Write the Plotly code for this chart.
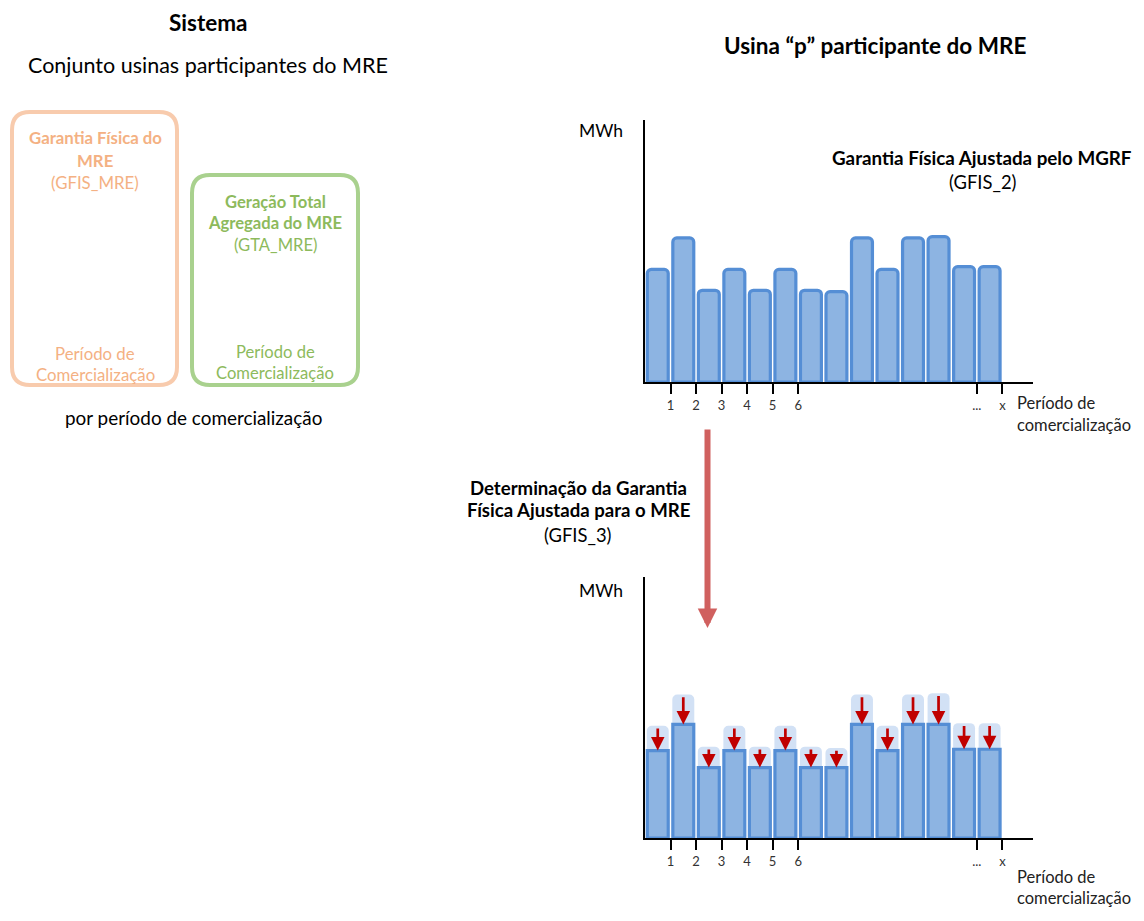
import plotly.graph_objects as go

# ---------------- data ----------------
periods = list(range(1, 15))
gfis2 = [4.3, 5.5, 3.5, 4.3, 3.5, 4.3, 3.5, 3.45, 5.5, 4.3, 5.5, 5.55, 4.4, 4.4]
gfis3 = [3.35, 4.35, 2.7, 3.35, 2.7, 3.35, 2.7, 2.7, 4.35, 3.35, 4.35, 4.35, 3.4, 3.4]
tick_vals = [1.5, 2.5, 3.5, 4.5, 5.5, 6.5, 13.5, 14.5]
tick_text = ["1", "2", "3", "4", "5", "6", "...", "x"]

# page body has an 8px margin: the figure occupies the window minus it
OFF = 8
W, H = 1144 - 2 * OFF, 921 - 2 * OFF
FONT = "Lato"

def px(x):
    return (x - OFF) / W

def py(y):
    return 1 - (y - OFF) / H

BAR_FILL = "#8db4e2"
BAR_LINE = "#558ed5"
GHOST = "rgba(195,215,241,0.75)"
RED = "#c00000"
BIG_ARROW = "#d0605f"
ORANGE_LINE = "#f8cbad"
ORANGE_TEXT = "#f4b183"
GREEN_LINE = "#a9d18e"
GREEN_TEXT = "#8dba5c"

fig = go.Figure()

# top chart
fig.add_trace(go.Bar(x=periods, y=gfis2, width=0.82, xaxis="x", yaxis="y",
                     marker=dict(color=BAR_FILL, line=dict(color=BAR_LINE, width=3.2), cornerradius=4),
                     showlegend=False, hoverinfo="skip"))
# bottom chart: ghost (original) then adjusted
fig.add_trace(go.Bar(x=periods, y=gfis2, width=0.86, xaxis="x2", yaxis="y2",
                     marker=dict(color=GHOST, line=dict(width=0), cornerradius=5),
                     showlegend=False, hoverinfo="skip"))
fig.add_trace(go.Bar(x=periods, y=gfis3, width=0.82, xaxis="x2", yaxis="y2",
                     marker=dict(color=BAR_FILL, line=dict(color=BAR_LINE, width=3.2), cornerradius=4),
                     showlegend=False, hoverinfo="skip"))

xaxis_common = dict(range=[0.5, 15.7], showline=True, linecolor="black", linewidth=2,
                    tickmode="array", tickvals=tick_vals, ticktext=tick_text,
                    ticks="outside", ticklen=10, tickwidth=2, tickcolor="black",
                    showgrid=False, zeroline=False, fixedrange=True,
                    tickfont=dict(family=FONT, size=13, color="#333"))
yaxis_common = dict(range=[0, 10], showline=True, linecolor="black", linewidth=2,
                    showticklabels=False, ticks="", showgrid=False, zeroline=False, fixedrange=True)

fig.update_layout(
    width=W, height=H, margin=dict(l=0, r=0, t=0, b=0),
    paper_bgcolor="white", plot_bgcolor="white",
    barmode="overlay", showlegend=False,
    font=dict(family=FONT, color="black"),
    xaxis=dict(domain=[px(645), px(1033)], anchor="y", **xaxis_common),
    yaxis=dict(domain=[py(382), py(120)], anchor="x", **yaxis_common),
    xaxis2=dict(domain=[px(645), px(1033)], anchor="y2", **xaxis_common),
    yaxis2=dict(domain=[py(838), py(577)], anchor="x2", **yaxis_common),
)

# red arrows from original to adjusted
for p, a, b in zip(periods, gfis2, gfis3):
    fig.add_annotation(x=p, y=b, ax=p, ay=a - 0.05, xref="x2", yref="y2", axref="x2", ayref="y2",
                       text="", showarrow=True, arrowhead=2, arrowwidth=2.7, arrowsize=1,
                       arrowcolor=RED)

# big arrow
fig.add_annotation(x=px(707.5), y=py(628), xref="paper", yref="paper", ax=0, ay=-200,
                   text="", showarrow=True, arrowhead=2, arrowwidth=6, arrowsize=0.65,
                   arrowcolor=BIG_ARROW)

# rounded boxes
def rounded(x0, y0, x1, y1, r):
    rx, ry = r / W, r / H
    X0, X1 = px(x0), px(x1)
    Yt, Yb = py(y0), py(y1)
    return (f"M{X0+rx},{Yt} L{X1-rx},{Yt} Q{X1},{Yt} {X1},{Yt-ry} "
            f"L{X1},{Yb+ry} Q{X1},{Yb} {X1-rx},{Yb} L{X0+rx},{Yb} "
            f"Q{X0},{Yb} {X0},{Yb+ry} L{X0},{Yt-ry} Q{X0},{Yt} {X0+rx},{Yt} Z")

fig.add_shape(type="path", path=rounded(12, 112, 177, 385, 18), xref="paper", yref="paper",
              line=dict(color=ORANGE_LINE, width=4))
fig.add_shape(type="path", path=rounded(192, 175, 358, 385, 18), xref="paper", yref="paper",
              line=dict(color=GREEN_LINE, width=4))

def txt(x, y, s, size=15, color="black", xanchor="center"):
    fig.add_annotation(x=px(x), y=py(y), xref="paper", yref="paper", text=s, showarrow=False,
                       xanchor=xanchor, yanchor="middle",
                       font=dict(family=FONT, size=size, color=color))

txt(208, 22, "<b>Sistema</b>", 22.5)
txt(208, 65, "Conjunto usinas participantes do MRE", 21.5)
txt(95, 138, "<b>Garantia Física do</b>", 16.8, ORANGE_TEXT)
txt(95, 160, "<b>MRE</b>", 16.8, ORANGE_TEXT)
txt(95, 182, "(GFIS_MRE)", 16.8, ORANGE_TEXT)
txt(95, 353, "Período de", 16.8, ORANGE_TEXT)
txt(95, 374, "Comercialização", 16.8, ORANGE_TEXT)
txt(275, 202, "<b>Geração Total</b>", 16.6, GREEN_TEXT)
txt(275, 223, "<b>Agregada do MRE</b>", 16.6, GREEN_TEXT)
txt(275, 245, "(GTA_MRE)", 16.6, GREEN_TEXT)
txt(275, 352, "Período de", 16.6, GREEN_TEXT)
txt(275, 373, "Comercialização", 16.6, GREEN_TEXT)
txt(193, 418, "por período de comercialização", 18.9)

txt(875, 45, "<b>Usina “p” participante do MRE</b>", 22.5)
txt(601, 130, "MWh", 17.5)
txt(982, 157, "<b>Garantia Física Ajustada pelo MGRF</b>", 18.8)
txt(983, 182, "(GFIS_2)", 18.4)
txt(1015, 403, "Período de", 16.5, "#222", "left")
txt(1015, 425, "comercialização", 16.5, "#222", "left")

txt(578, 488, "<b>Determinação da Garantia</b>", 18.6)
txt(578, 510, "<b>Física Ajustada para o MRE</b>", 18.6)
txt(578, 535, "(GFIS_3)", 18.4)
txt(601, 590, "MWh", 17.5)
txt(1015, 877, "Período de", 16.5, "#222", "left")
txt(1015, 898, "comercialização", 16.5, "#222", "left")

fig.write_html("out.html")
